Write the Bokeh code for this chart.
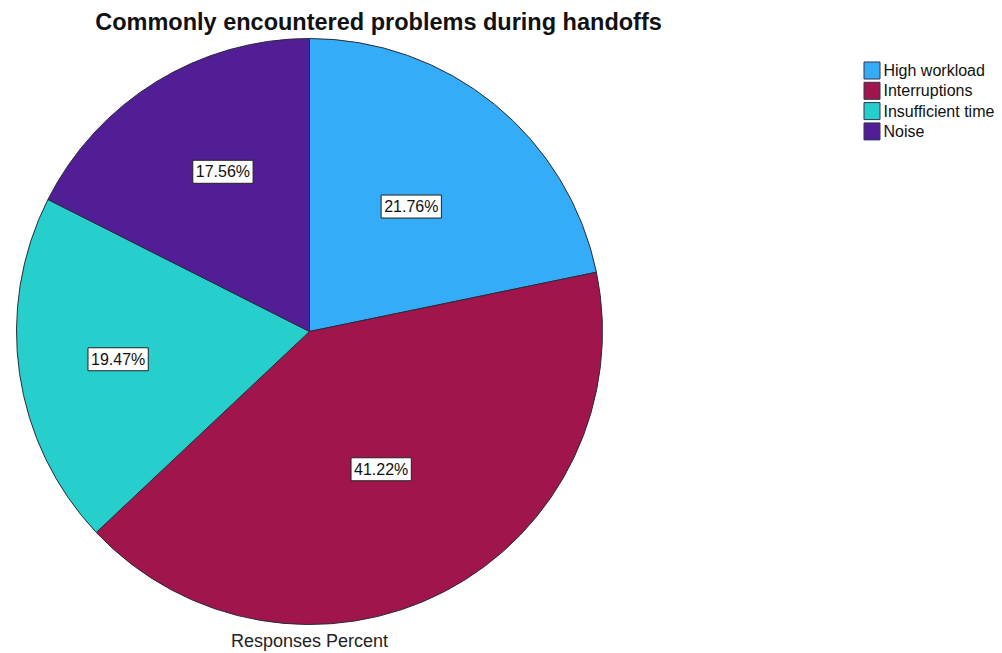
import numpy as np
from bokeh.plotting import figure
from bokeh.models import Range1d, ColumnDataSource
from bokeh.core.properties import value
from bokeh.embed import file_html
from bokeh.resources import INLINE

title = "Commonly encountered problems during handoffs"
axis_label = "Responses Percent"
categories = ["High workload", "Interruptions", "Insufficient time", "Noise"]
percents = [21.76, 41.22, 19.47, 17.56]
colors = ["#35acf7", "#a0164c", "#26cfcb", "#521e96"]
label_radius_frac = [0.55, 0.53, 0.66, 0.62]
label_angle_shift = [0.0, 0.0, 0.0, -0.055]

W, H = 1002, 653
FONT = "Liberation Sans"

p = figure(width=W, height=H, output_backend="svg", toolbar_location=None,
           x_range=Range1d(0, W), y_range=Range1d(0, H), min_border=0)
p.axis.visible = False
p.grid.visible = False
p.outline_line_color = None

cx, cy, r = 309, H - 331, 293
frac = np.array(percents) / np.sum(percents)
cum = np.concatenate([[0.0], np.cumsum(frac)])
start = np.pi / 2 - cum[:-1] * 2 * np.pi
end = np.pi / 2 - cum[1:] * 2 * np.pi
mid = (start + end) / 2 + np.array(label_angle_shift)
lr = np.array(label_radius_frac) * r

src = ColumnDataSource(dict(cat=categories, start=start, end=end, color=colors,
                            lx=cx + lr * np.cos(mid), ly=cy + lr * np.sin(mid),
                            lab=[f"{v:.2f}%" for v in percents]))

p.wedge(x=cx, y=cy, radius=r, start_angle="start", end_angle="end", direction="clock",
        fill_color="color", line_color="#2b2b3a", line_width=1, source=src)

p.text(x="lx", y="ly", text="lab", source=src, text_align="center", text_baseline="middle",
       text_font=value(FONT), text_font_size="16px", text_color="#111111",
       background_fill_color="white", border_line_color="#222222", border_line_width=1,
       padding=3)

# title and axis label
p.text(x=[378], y=[H - 21], text=[title], text_align="center", text_baseline="middle",
       text_font=value(FONT), text_font_size="23.5px", text_font_style="bold", text_color="#111111")
p.text(x=[309], y=[H - 640], text=[axis_label], text_align="center", text_baseline="middle",
       text_font=value(FONT), text_font_size="18px", text_color="#222222")

# legend
n = len(categories)
ly0 = [H - (70 + 20.3 * i) for i in range(n)]
leg = ColumnDataSource(dict(x=[871.5] * n, y=ly0, tx=[883] * n, cat=categories, color=colors))
p.rect(x="x", y="y", width=16, height=17, fill_color="color", line_color="#333355",
       line_width=1, source=leg)
p.text(x="tx", y="y", text="cat", source=leg, text_align="left", text_baseline="middle",
       text_font=value(FONT), text_font_size="16px", text_color="#111111")

open("out.html", "w").write(file_html(p, INLINE))
